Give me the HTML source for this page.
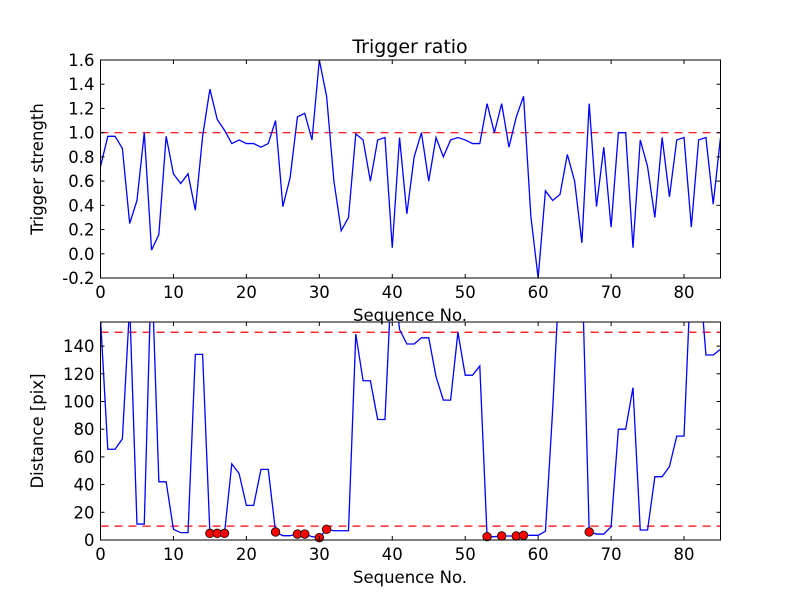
<!DOCTYPE html>
<html><head><meta charset="utf-8"><style>
body{margin:0;background:#fff}
svg{display:block;font-family:"DejaVu Sans","Liberation Sans",sans-serif}
</style></head><body>
<svg id="c" width="800" height="600" viewBox="0 0 800 600">
<rect width="800" height="600" fill="#fff"/>
</svg>
<script>
const seq = Array.from({length:86},(_,i)=>i);
const triggerStrength = [0.72,0.97,0.97,0.87,0.25,0.44,1.0,0.03,0.16,0.97,0.66,0.58,0.66,0.36,0.97,1.36,1.11,1.02,0.91,0.94,0.91,0.91,0.88,0.91,1.1,0.39,0.63,1.13,1.16,0.94,1.6,1.3,0.6,0.19,0.3,0.99,0.94,0.6,0.94,0.96,0.05,0.96,0.33,0.8,1.0,0.6,0.96,0.8,0.94,0.96,0.94,0.91,0.91,1.24,1.0,1.24,0.88,1.13,1.3,0.31,-0.2,0.52,0.44,0.49,0.82,0.6,0.09,1.24,0.39,0.88,0.22,1.0,1.0,0.05,0.94,0.72,0.3,0.96,0.47,0.94,0.96,0.22,0.94,0.96,0.41,0.96];
const distance = [160,65.5,65.5,73,170,11.5,11.5,200,42,42,7.7,5.3,5.3,134,134,4.8,4.8,4.8,55,48,25,25,51,51,5.8,3.1,3.1,4.3,4.3,2.4,1.7,7.7,6.7,6.7,6.7,148.7,115,115,87,87,200,152,141.5,141.5,146,146,118,101,101,150,119,119,125.6,2.4,2.4,2.9,2.9,2.9,3.4,3.4,3.4,6.3,95,200,200,200,200,5.8,4.3,4.3,9.6,80,80,110,7.2,7.2,45.7,45.7,53,75,75,200,200,133.6,133.6,137.7];
const dotIdx = [15,16,17,24,27,28,30,31,53,55,57,58,67];
const topTicks = [-0.2,0.0,0.2,0.4,0.6,0.8,1.0,1.2,1.4,1.6];
const botTicks = [0,20,40,60,80,100,120,140];
const xTicks = [0,10,20,30,40,50,60,70,80];
const topThresh = [1.0];
const botThresh = [10,150];

const NS="http://www.w3.org/2000/svg", svg=document.getElementById('c');
function el(t,a,p){const e=document.createElementNS(NS,t);for(const k in a)e.setAttribute(k,a[k]);(p||svg).appendChild(e);return e;}
const X0=100.5,X1=720.5;
const FS=16.5;
const sx=v=>X0+(v-0)/(85-0)*(X1-X0);
function panel(top,bot,ymin,ymax,name){
  const sy=v=>bot-(v-ymin)/(ymax-ymin)*(bot-top);
  const g=el('g',{});
  
  
  const cp=el('clipPath',{id:'cp'+name},g);
  el('rect',{x:X0,y:top,width:X1-X0,height:bot-top},cp);
  return {g,sy,top,bot,clip:'url(#cp'+name+')'};
}
function frame(p,yt,fmt,ylab,yname){
  const {g,sy,top,bot}=p;
  xTicks.forEach(v=>{
    const x=sx(v);
    el('line',{x1:x,x2:x,y1:bot,y2:bot-4,stroke:'#000'},g);
    el('line',{x1:x,x2:x,y1:top,y2:top+4,stroke:'#000'},g);
    const t=el('text',{x:x,y:bot+20,'font-size':FS,'text-anchor':'middle'},g);t.textContent=v;
    
    
  });
  yt.forEach(v=>{
    const y=sy(v);
    el('line',{x1:X0,x2:X0+4,y1:y,y2:y,stroke:'#000'},g);
    el('line',{x1:X1,x2:X1-4,y1:y,y2:y,stroke:'#000'},g);
    const t=el('text',{x:X0-6,y:y+6,'font-size':FS,'text-anchor':'end'},g);t.textContent=fmt(v);
    
    
  });
  el('rect',{x:X0,y:top,width:X1-X0,height:bot-top,fill:'none',stroke:'#000','stroke-width':1},g);
  const xl=el('text',{x:410,y:bot+43,'font-size':FS,'text-anchor':'middle'},g);xl.textContent='Sequence No.';
  
  
  const yl=el('text',{x:0,y:0,'font-size':FS,'text-anchor':'middle',transform:`translate(43,${(top+bot)/2}) rotate(-90)`},g);yl.textContent=ylab;
  
  
}
const P1=panel(60,278,-0.2,1.6,'trigger-panel');
topThresh.forEach(v=>{const l=el('line',{x1:X0,x2:X1,y1:P1.sy(v),y2:P1.sy(v),stroke:'#f00','stroke-dasharray':'8,6','stroke-width':1.2},P1.g);
  
  });
const l1=el('polyline',{points:seq.map((s,i)=>sx(s)+','+P1.sy(triggerStrength[i])).join(' '),fill:'none',stroke:'#00f','stroke-width':1.3,'clip-path':P1.clip},P1.g);


frame(P1,topTicks,v=>v.toFixed(1),'Trigger strength','y-axis-title');
const title=el('text',{x:410,y:53,'font-size':19,'text-anchor':'middle'});title.textContent='Trigger ratio';


const P2=panel(322,540,0,157.4,'distance-panel');
botThresh.forEach(v=>{const l=el('line',{x1:X0,x2:X1,y1:P2.sy(v),y2:P2.sy(v),stroke:'#f00','stroke-dasharray':'8,6','stroke-width':1.2},P2.g);
  
  });
const l2=el('polyline',{points:seq.map((s,i)=>sx(s)+','+P2.sy(distance[i])).join(' '),fill:'none',stroke:'#00f','stroke-width':1.3,'clip-path':P2.clip},P2.g);


dotIdx.forEach(i=>{const c=el('circle',{cx:sx(seq[i]),cy:P2.sy(distance[i]),r:4.3,fill:'#f00',stroke:'#000','stroke-width':0.8},P2.g);
  
  });
frame(P2,botTicks,v=>v,'Distance [pix]','y-axis-title-distance');
</script>
</body></html>
